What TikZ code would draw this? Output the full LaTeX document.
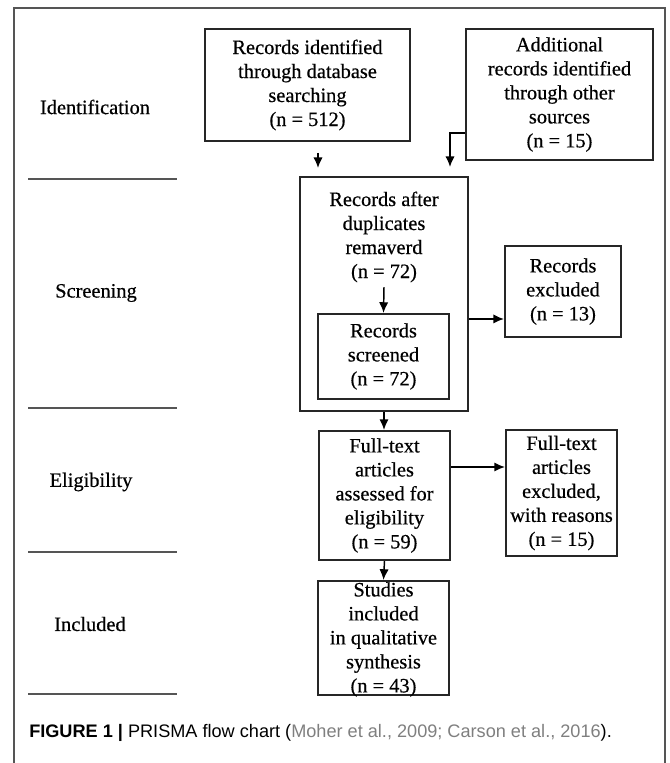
\documentclass[tikz,border=0pt]{standalone}
\usepackage{fontspec}
\setmainfont{Liberation Serif}
\newfontfamily\chartfont{Liberation Serif}[FakeBold=0.5]
\newfontfamily\capfont{Liberation Sans}
\usetikzlibrary{arrows.meta}
\definecolor{citegray}{HTML}{7F7F7F}
\definecolor{framegray}{HTML}{555555}
\tikzset{
    box/.style={draw=black!85, line width=1.6pt, align=center, inner sep=0pt, font=\chartfont\fontsize{15.3}{18}\selectfont},
    boxsize/.style 2 args={minimum width=#1*0.75pt, minimum height=#2*0.75pt},
    boxtext/.style={align=center, font=\chartfont\fontsize{15.3}{18}\selectfont},
    stage/.style={font=\chartfont\fontsize{15.3}{18}\selectfont},
    arr/.style={-{Latex[length=8pt,width=7pt]}, line width=1.1pt},
    sepline/.style={draw=framegray, line width=1.5pt}
}
\begin{document}
\begin{tikzpicture}[x=0.75pt,y=-0.75pt]
\useasboundingbox (0,0) rectangle (670,763);
\draw[framegray, line width=1.4pt] (14,763) -- (14,8) -- (665,8) -- (665,763);
\foreach \y in {179,408,552,694}
    \draw[sepline] (28,\y) -- (177,\y);
\node[stage] (ident) at (95,107) {Identification};
\node[stage] (screen) at (96,293) {Screening};
\node[stage] (elig) at (91,482) {Eligibility};
\node[stage] (included) at (90,624) {Included};
\node[box, boxsize={205}{112}] (dbase) at (307.5,85) {Records identified\\through database\\searching\\(n = 512)};
\node[box, boxsize={187}{131}] (other) at (559.5,94.5) {Additional\\records identified\\through other\\sources\\(n = 15)};
\node[box, boxsize={168}{234}] (dupbox) at (384,294) {};
\node[boxtext] (duptext) at (384,237) {Records after\\duplicates\\remaverd\\(n = 72)};
\node[box, boxsize={131}{85}] (screened) at (383.5,356.5) {Records\\screened\\(n = 72)};
\node[box, boxsize={116}{91}] (excl) at (563,291.5) {Records\\excluded\\(n = 13)};
\node[box, boxsize={131}{129}] (fulltext) at (384.5,495.5) {Full-text\\articles\\assessed for\\eligibility\\(n = 59)};
\node[box, boxsize={111}{126}] (ftexcl) at (561.5,493) {Full-text\\articles\\excluded,\\with reasons\\(n = 15)};
\node[box, boxsize={131}{114}] (incl) at (383.5,638) {};
\node[boxtext] (incltext) at (383.5,639.5) {Studies\\included\\in qualitative\\synthesis\\(n = 43)};
\coordinate (dbstart) at (318,153);
\coordinate (dbend) at (318,168);
\coordinate (otherdown) at (450,167);
\coordinate (exclin) at ([yshift=-20.6pt]excl.west);
\coordinate (ftin) at ([yshift=19.5pt]ftexcl.west);
\draw[arr] (dbstart) -- (dbend);
\draw[arr] ([yshift=-28.9pt]other.west) -| (otherdown);
\draw[arr] (duptext.south) -- (screened.north);
\draw[arr] (dupbox.east |- exclin) -- (exclin);
\draw[arr] (dupbox.south) -- (dupbox.south |- fulltext.north);
\draw[arr] (fulltext.east |- ftin) -- (ftin);
\draw[arr] (fulltext.south) -- (incl.north);
\node[anchor=west, inner sep=0pt, font=\capfont\fontsize{13.6}{16}\selectfont] (caption) at (29,733) {\textbf{FIGURE 1 |} PRISMA flow chart (\textcolor{citegray}{Moher et al., 2009; Carson et al., 2016}).};
\end{tikzpicture}
\end{document}
